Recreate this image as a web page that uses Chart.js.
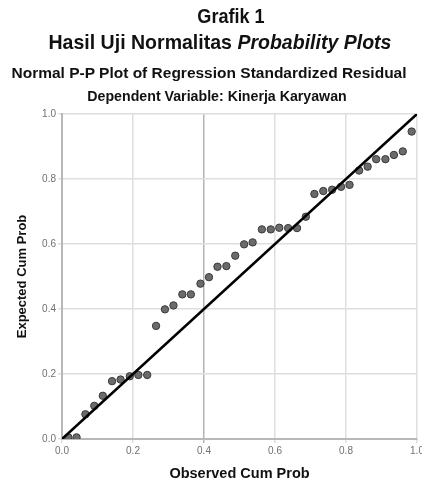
<!DOCTYPE html>
<html>
<head>
<meta charset="utf-8">
<script src="https://cdn.jsdelivr.net/npm/chart.js@4"></script>
<style>
  html, body { margin: 0; padding: 0; background: #fff; }
  #wrap { position: relative; width: 422px; height: 483px; overflow: hidden; font-family: "Liberation Sans", Arial, sans-serif; color: #111; }
  canvas { position: absolute; left: 0; top: 0; }
  .t { position: absolute; white-space: nowrap; transform-origin: center center; }
  #t1 { font-weight: bold; font-size: 21px; left: 231px; top: 16px; transform: translate(-50%, -50%) scaleX(0.86); }
  #t2 { font-weight: bold; font-size: 21px; left: 220px; top: 42px; transform: translate(-50%, -50%) scaleX(0.93); }
  #t3 { font-weight: bold; font-size: 15.5px; left: 209px; top: 73px; transform: translate(-50%, -50%); }
  #t4 { font-weight: bold; font-size: 14.2px; left: 217px; top: 96px; transform: translate(-50%, -50%); }
</style>
</head>
<body>
<div id="wrap">
  <canvas id="c" width="422" height="483"></canvas>
  <div class="t" id="t1">Grafik 1</div>
  <div class="t" id="t2">Hasil Uji Normalitas <i>Probability Plots</i></div>
  <div class="t" id="t3">Normal P-P Plot of Regression Standardized Residual</div>
  <div class="t" id="t4">Dependent Variable: Kinerja Karyawan</div>
</div>
<script>
// Observed cumulative probability (x) and expected cumulative probability (y)
const observedCumProb = [0.018, 0.041, 0.066, 0.091, 0.115, 0.141, 0.165, 0.191, 0.215, 0.240,
  0.265, 0.290, 0.314, 0.339, 0.363, 0.390, 0.414, 0.438, 0.463, 0.488,
  0.513, 0.537, 0.563, 0.588, 0.612, 0.637, 0.662, 0.687, 0.711, 0.736,
  0.761, 0.786, 0.810, 0.837, 0.861, 0.885, 0.911, 0.935, 0.960, 0.985];
const expectedCumProb = [0.005, 0.005, 0.076, 0.102, 0.133, 0.178, 0.183, 0.193, 0.197, 0.197,
  0.348, 0.399, 0.411, 0.445, 0.445, 0.478, 0.498, 0.530, 0.532, 0.564,
  0.599, 0.605, 0.645, 0.645, 0.650, 0.649, 0.649, 0.684, 0.754, 0.763,
  0.767, 0.776, 0.782, 0.826, 0.838, 0.861, 0.861, 0.874, 0.885, 0.946];
const diagonalX = [0, 1];
const diagonalY = [0, 1];
const tickLabels = ['0.0', '0.2', '0.4', '0.6', '0.8', '1.0'];
const xTitle = 'Observed Cum Prob';
const yTitle = 'Expected Cum Prob';

const points = observedCumProb.map((x, i) => ({ x: x, y: expectedCumProb[i] }));
const diag = diagonalX.map((x, i) => ({ x: x, y: diagonalY[i] }));

const tickFont = { family: '"Liberation Sans", Arial, sans-serif', size: 10 };
const titleFont = { family: '"Liberation Sans", Arial, sans-serif', weight: 'bold' };

new Chart(document.getElementById('c'), {
  type: 'scatter',
  data: {
    datasets: [
      {
        type: 'line',
        data: diag,
        borderColor: '#000',
        borderWidth: 2.6,
        pointRadius: 0,
        fill: false,
        order: 0
      },
      {
        data: points,
        backgroundColor: '#6b6b6b',
        borderColor: '#3a3a3a',
        borderWidth: 1,
        pointRadius: 3.7,
        clip: 0,
        order: 1
      }
    ]
  },
  options: {
    responsive: false,
    animation: false,
    devicePixelRatio: 1,
    layout: { padding: { top: 114, right: 5, left: 0, bottom: 0 } },
    plugins: { legend: { display: false }, tooltip: { enabled: false }, title: { display: false } },
    scales: {
      x: {
        type: 'linear', min: 0, max: 1,
        ticks: { stepSize: 0.2, color: '#707070', font: tickFont, padding: 2, maxRotation: 0,
          callback: (v, i) => tickLabels[i] },
        grid: { color: ctx => (ctx.tick && Math.abs(ctx.tick.value - 0.4) < 1e-6) ? '#b4b4b4' : '#dedede',
          lineWidth: 1.5, tickLength: 4 },
        border: { color: '#b8b8b8', width: 2 },
        title: { display: true, text: xTitle, color: '#111', font: Object.assign({ size: 14.5 }, titleFont), padding: { top: 0, bottom: 0 } },
        afterFit: s => { s.height = 44; s.paddingLeft = 0; s.paddingRight = 0; }
      },
      y: {
        type: 'linear', min: 0, max: 1,
        ticks: { stepSize: 0.2, color: '#707070', font: tickFont, padding: 2,
          callback: (v, i) => tickLabels[i] },
        grid: { color: '#dedede', lineWidth: 1.5, tickLength: 4 },
        border: { color: '#b8b8b8', width: 2 },
        title: { display: true, text: yTitle, color: '#111', font: Object.assign({ size: 13 }, titleFont), padding: { top: 15, bottom: 0 } },
        afterFit: s => { s.width = 62; s.paddingTop = 0; s.paddingBottom = 0; }
      }
    }
  }
});
</script>
</body>
</html>
